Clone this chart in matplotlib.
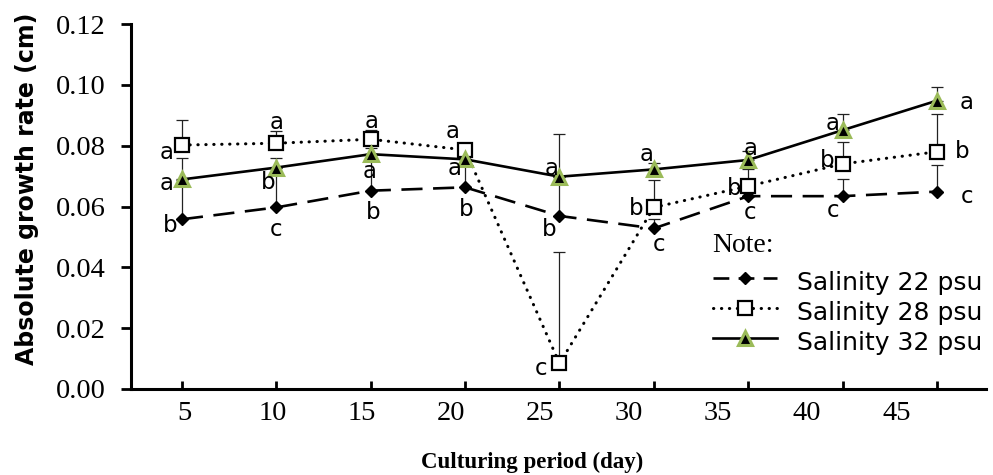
import matplotlib
matplotlib.use("Agg")
import matplotlib.pyplot as plt
from matplotlib.lines import Line2D

# ---------------- data ----------------
days = [5, 10, 15, 20, 25, 30, 35, 40, 45]
tick_labels = ["5", "10", "15", "20", "25", "30", "35", "40", "45"]

sal22 = [0.0558, 0.0597, 0.0652, 0.0663, 0.0569, 0.0528, 0.0634, 0.0634, 0.0649]
sal28 = [0.0802, 0.0808, 0.0821, 0.0786, 0.0084, 0.0597, 0.0667, 0.0740, 0.0780]
sal32 = [0.0689, 0.0728, 0.0772, 0.0755, 0.0698, 0.0722, 0.0753, 0.0851, 0.0948]

err22 = [0.0128, 0.0128, 0.0120, 0.0092, 0.0128, 0.0030, 0.0030, 0.0058, 0.0088]
err28 = [0.0082, 0.0040, 0.0030, 0.0020, 0.0365, 0.0089, 0.0056, 0.0073, 0.0123]
err32 = [0.0072, 0.0030, 0.0020, 0.0020, 0.0139, 0.0020, 0.0030, 0.0052, 0.0044]

let22 = ["b", "c", "b", "b", "b", "c", "c", "c", "c"]
let28 = ["a", "a", "a", "a", "c", "b", "b", "b", "b"]
let32 = ["a", "b", "a", "a", "a", "a", "a", "a", "a"]

legend_labels = ["Salinity 22 psu", "Salinity 28 psu", "Salinity 32 psu"]

# ---------------- layout / style ----------------
W, H = 993, 475
fig = plt.figure(figsize=(W / 100, H / 100), dpi=100)
ax_l, ax_r, ax_b, ax_t = 131, 986, 389, 24
ax = fig.add_axes([ax_l / W, 1 - ax_b / H, (ax_r - ax_l) / W, (ax_b - ax_t) / H])

GREEN = "#9BBB59"
serif = "Liberation Serif"
sans = "DejaVu Sans"
LW = 1.9
DASH = (8, 4)
DOT = (0, (0.1, 2.5))

# error bars (plus direction only), drawn first
for vals, errs in [(sal22, err22), (sal28, err28), (sal32, err32)]:
    ax.errorbar(days, vals, yerr=[[0] * len(errs), errs], fmt="none",
                ecolor="#222222", elinewidth=0.9, capsize=4.2, capthick=0.9, zorder=2)

ax.plot(days, sal22, color="black", lw=LW, dashes=DASH, marker="D",
        ms=6.5, mfc="black", mec="black", zorder=3)
ax.plot(days, sal28, color="black", lw=2.2, linestyle=DOT,
        dash_capstyle="round", marker="s", ms=9.5, mfc="white", mec="black",
        mew=1.6, zorder=4)
ax.plot(days, sal32, color="black", lw=LW, marker="^", ms=10.5, mfc="black",
        mec=GREEN, mew=2.2, zorder=5)

# significance letters (offsets in pixels: dx right, dy down)
off22 = [(-12, 6), (0, 22), (2, 22), (1, 22), (-10, 14), (5, 16), (2, 16), (-10, 14), (30, 5)]
off28 = [(-15, 7), (0, -21), (1, -18), (-12, -18), (-18, 5), (-18, 1), (-14, 2), (-15, -3), (25, 0)]
off32 = [(-15, 4), (-8, 15), (-1, 17), (-10, 9), (-8, -8), (-7, -15), (2, -11), (-10, -7), (30, 2)]
for vals, lets, offs in [(sal22, let22, off22), (sal28, let28, off28), (sal32, let32, off32)]:
    for x, y, t, (dx, dy) in zip(days, vals, lets, offs):
        ax.annotate(t, xy=(x, y), xytext=(dx * 0.72, -dy * 0.72), textcoords="offset points",
                    ha="center", va="center", fontsize=16.5, family=sans, zorder=6)

# axes
ppx = 94.4 / 5.0  # pixels per day
x0 = 5 - (182 - ax_l) / ppx
x1 = 45 + (ax_r - 937) / ppx
ax.set_xlim(x0, x1)
ax.set_ylim(0, 0.12)
ax.set_yticks([0, 0.02, 0.04, 0.06, 0.08, 0.10, 0.12])
ax.set_yticklabels(["0.00", "0.02", "0.04", "0.06", "0.08", "0.10", "0.12"],
                   family=serif, fontsize=20.5)
ax.tick_params(axis="y", direction="out", length=7, width=2, pad=11)

# x tick marks at the data points, labels placed where the reference has them
ax.set_xticks(days, minor=True)
ax.tick_params(axis="x", which="minor", direction="in", length=6, width=2)
label_pos = [5 + (px - 182) / ppx for px in [184, 273, 362, 451, 540, 629, 718, 807, 897]]
ax.set_xticks(label_pos)
ax.set_xticklabels(tick_labels, family=serif, fontsize=20.5)
ax.tick_params(axis="x", which="major", length=0, pad=9)

for s in ["top", "right"]:
    ax.spines[s].set_visible(False)
for s in ["left", "bottom"]:
    ax.spines[s].set_linewidth(2.2)

ax.set_ylabel("Absolute growth rate (cm)", family=sans, fontweight="bold", fontsize=17)
ax.yaxis.set_label_coords((27 - ax_l) / (ax_r - ax_l), (ax_b - 189) / (ax_b - ax_t))
ax.yaxis.label.set_va("center")
ax.set_xlabel("Culturing period (day)", family=serif, fontweight="bold", fontsize=16.5)
ax.xaxis.set_label_coords((532 - ax_l) / (ax_r - ax_l), (ax_b - 462) / (ax_b - ax_t))
ax.xaxis.label.set_va("center")

# legend ("Note:" block)
def fx(px):
    return px / W
def fy(py):
    return 1 - py / H

fig.text(fx(712), fy(245), "Note:", family=serif, fontsize=20, ha="left", va="center")
hy = [278, 308, 338]
ty = [283, 313, 343]
styles = [
    dict(color="black", lw=LW, dashes=(6, 3.5)),
    dict(color="black", lw=2.2, linestyle=DOT, dash_capstyle="round"),
    dict(color="black", lw=LW),
]
mks = [
    dict(marker="D", ms=6.5, mfc="black", mec="black"),
    dict(marker="s", ms=9.5, mfc="white", mec="black", mew=1.6),
    dict(marker="^", ms=10.5, mfc="black", mec=GREEN, mew=2.2),
]
for y, st, mk in zip(hy, styles, mks):
    fig.add_artist(Line2D([fx(713), fx(777)], [fy(y), fy(y)], transform=fig.transFigure, **st))
    fig.add_artist(Line2D([fx(745)], [fy(y)], transform=fig.transFigure, linestyle="none", **mk))
for y, lab in zip(ty, legend_labels):
    fig.text(fx(797), fy(y), lab, family=sans, fontsize=18, ha="left", va="center")

fig.savefig("out.png", dpi=100)
